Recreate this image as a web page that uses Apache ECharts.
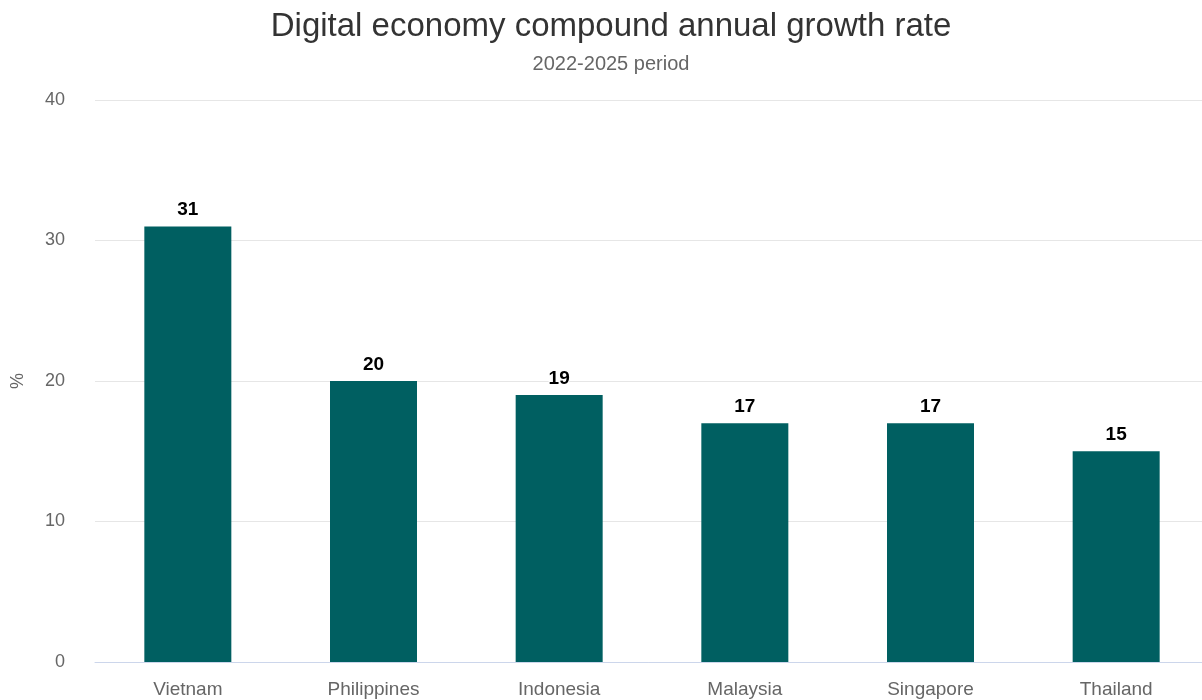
<!DOCTYPE html>
<html>
<head>
<meta charset="utf-8">
<script src="https://cdn.jsdelivr.net/npm/echarts@6/dist/echarts.min.js"></script>
<style>
  html, body { margin: 0; padding: 0; background: #fff; }
  #chart { width: 1202px; height: 700px; }
</style>
</head>
<body>
<div id="chart"></div>
<script>
// data
const countries = ['Vietnam', 'Philippines', 'Indonesia', 'Malaysia', 'Singapore', 'Thailand'];
const cagr = [31, 20, 19, 17, 17, 15];
const yTicks = [0, 10, 20, 30, 40];

const chart = echarts.init(document.getElementById('chart'));

chart.setOption({
    animation: false,
    textStyle: { fontFamily: 'Liberation Sans, Arial, sans-serif' },
    title: {
        text: 'Digital economy compound annual growth rate',
        subtext: '2022-2025 period',
        left: 606,
        textAlign: 'center',
        top: 5,
        itemGap: 11,
        textStyle: { fontSize: 33, fontWeight: 'normal', color: '#333333' },
        subtextStyle: { fontSize: 20, color: '#666666' }
    },
    // plot runs a little past the right edge, as in the reference
    grid: { left: 95, width: 1114, top: 100, bottom: 38, containLabel: false, outerBoundsMode: 'none' },
    xAxis: {
        type: 'category',
        data: countries,
        axisLine: { lineStyle: { color: '#ccd6eb', width: 1 } },
        axisTick: { show: false },
        axisLabel: { color: '#666666', fontSize: 19, margin: 18 }
    },
    yAxis: {
        type: 'value',
        min: yTicks[0],
        max: yTicks[yTicks.length - 1],
        interval: 10,
        name: '%',
        nameLocation: 'middle',
        nameGap: 68,
        nameTextStyle: { color: '#666666', fontSize: 18 },
        axisLabel: { color: '#666666', fontSize: 18, margin: 30 },
        splitLine: { lineStyle: { color: '#e6e6e6', width: 1 } }
    },
    series: [{
        type: 'bar',
        data: cagr,
        barWidth: 87,
        itemStyle: { color: '#005f61' },
        label: {
            show: true,
            position: 'top',
            distance: 7,
            color: '#000000',
            fontWeight: 'bold',
            fontSize: 19,
            textBorderColor: '#ffffff',
            textBorderWidth: 2
        }
    }]
});
</script>
</body>
</html>
